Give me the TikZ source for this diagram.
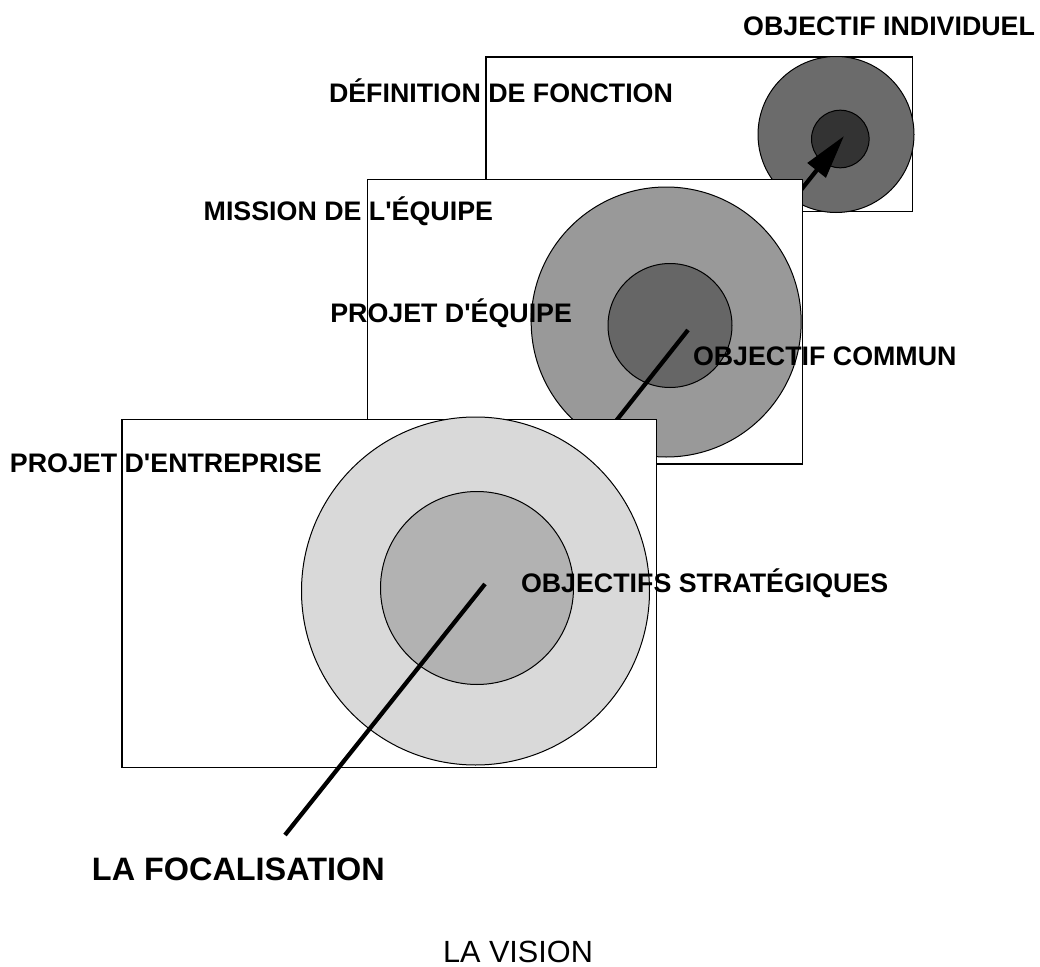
\documentclass[tikz,border=0pt]{standalone}
\usepackage{fontspec}
\setmainfont{Liberation Sans}
\usetikzlibrary{arrows.meta}
\definecolor{frontout}{HTML}{D9D9D9}
\definecolor{frontin}{HTML}{B2B2B2}
\definecolor{midout}{HTML}{999999}
\definecolor{midin}{HTML}{666666}
\definecolor{backout}{HTML}{6B6B6B}
\definecolor{backin}{HTML}{333333}
\newcommand{\apos}{\textquotesingle}
\begin{document}
\begin{tikzpicture}[x=0.75pt,y=-0.75pt,
  panel/.style={draw=black, line width=0.9pt, fill=white, rectangle, inner sep=0pt, outer sep=0pt, anchor=north west},
  disc/.style={draw=black, line width=0.75pt, circle, inner sep=0pt, outer sep=0pt},
  lbl/.style={font=\fontsize{20.1pt}{23pt}\selectfont\bfseries, inner sep=0pt, outer sep=0pt},
  focus/.style={line width=3.2pt, draw=black},
]
\useasboundingbox (0,0) rectangle (1040,967);
% back layer
\node[panel, minimum width=320pt, minimum height=115.8pt] (backpanel) at (486,57) {};
\node[disc, fill=backout, minimum size=117pt] (backouter) at (836,134.5) {};
\node[disc, fill=backin, minimum size=43.2pt] (backinner) at (840.3,139) {};
\coordinate (b0) at (793,200);
\coordinate (b1) at (844,136);
\draw[focus, -{Triangle[length=33pt, width=17pt]}] (b0) -- (b1);
% middle layer
\node[panel, minimum width=326.5pt, minimum height=213.5pt] (midpanel) at (367.3,179.3) {};
\node[disc, fill=midout, minimum size=202.5pt] (midouter) at (666.2,322) {};
\node[disc, fill=midin, minimum size=93pt] (midinner) at (670,325.5) {};
\coordinate (m0) at (593,450);
\coordinate (m1) at (688,330);
\draw[focus] (m0) -- (m1);
% front layer
\node[panel, minimum width=400.9pt, minimum height=261pt] (frontpanel) at (122,419.5) {};
\node[disc, fill=frontout, minimum size=261pt] (frontouter) at (475.5,591) {};
\node[disc, fill=frontin, minimum size=144.75pt] (frontinner) at (477,588) {};
\coordinate (f0) at (285,835);
\coordinate (f1) at (485,584);
\draw[focus] (f0) -- (f1);
% labels
\node[lbl, anchor=base east] (indiv) at (1035,36) {OBJECTIF INDIVIDUEL};
\node[lbl, anchor=base west] (fonction) at (329,102) {DÉFINITION DE FONCTION};
\node[lbl, anchor=base east] (mission) at (493,220) {MISSION DE L\apos ÉQUIPE};
\node[lbl, anchor=base east] (projeq) at (572,322) {PROJET D\apos ÉQUIPE};
\node[lbl, anchor=base west] (commun) at (693,365) {OBJECTIF COMMUN};
\node[lbl, anchor=base west] (projent) at (10,472) {PROJET D\apos ENTREPRISE};
\node[lbl, anchor=base west] (strat) at (521,592) {OBJECTIFS STRATÉGIQUES};
\node[inner sep=0pt, anchor=base east, font=\fontsize{24.3pt}{28pt}\selectfont\bfseries] (focal) at (385,880) {LA FOCALISATION};
\node[inner sep=0pt, anchor=base, font=\fontsize{23pt}{27pt}\selectfont] (vision) at (518,962) {LA VISION};
\end{tikzpicture}
\end{document}
